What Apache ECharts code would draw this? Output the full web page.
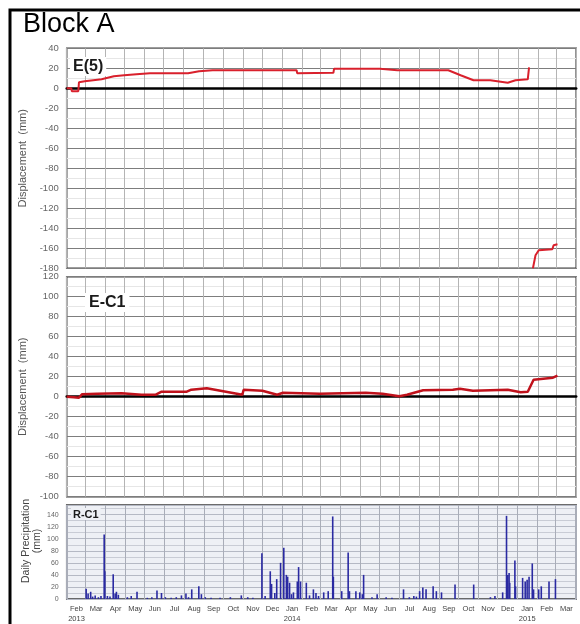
<!DOCTYPE html>
<html>
<head>
<meta charset="utf-8">
<script src="https://cdn.jsdelivr.net/npm/echarts@6/dist/echarts.min.js"></script>
<style>
  html, body { margin: 0; padding: 0; background: #fff; }
  #chart { width: 580px; height: 624px; }
</style>
</head>
<body>
<div id="chart"></div>
<script>
// Month tick labels along the bottom (Feb 2013 .. Mar 2015) and the year under the first month of each year
const monthLabels = ['Feb','Mar','Apr','May','Jun','Jul','Aug','Sep','Oct','Nov','Dec',
  'Jan','Feb','Mar','Apr','May','Jun','Jul','Aug','Sep','Oct','Nov','Dec',
  'Jan','Feb','Mar'];
const yearLabels = { 0: '2013', 11: '2014', 23: '2015' };

// Extensometer E(5): displacement (mm); null marks the break before the reset reading
const e5Dates = ['2013-02-01','2013-02-08','2013-02-09','2013-02-19','2013-02-20','2013-03-01','2013-03-27','2013-03-30','2013-04-15','2013-05-01',
  '2013-05-20','2013-06-10','2013-08-08','2013-08-25','2013-09-15','2013-11-25','2013-11-27','2013-12-05','2014-01-23','2014-01-24',
  '2014-03-21','2014-03-22','2014-06-01','2014-06-28','2014-09-15','2014-10-04','2014-10-24','2014-11-19','2014-12-16','2014-12-28',
  '2015-01-16','2015-01-18','2015-01-21','2015-01-24','2015-01-28','2015-02-02','2015-02-23','2015-02-25','2015-03-03'];
const e5Disp = [0,0,-3,-3,6,7,9,11,12,13,
  14,15,15,17,18,18,19,18,18,15,
  15.5,19.5,19.5,18,18,13,8,8,5.5,8,
  9,21,null,-180,-167,-162,-161,-157,-156];

// Extensometer E-C1: displacement (mm)
const ec1Dates = ['2013-02-01','2013-02-12','2013-02-20','2013-02-25','2013-03-20','2013-04-27','2013-05-28','2013-06-19','2013-06-28','2013-08-06',
  '2013-08-13','2013-09-06','2013-10-31','2013-11-02','2013-12-01','2013-12-24','2014-01-02','2014-02-28','2014-05-10','2014-06-05',
  '2014-07-01','2014-07-13','2014-08-07','2014-09-22','2014-10-03','2014-10-23','2014-12-16','2015-01-05','2015-01-16','2015-01-25',
  '2015-02-24','2015-03-03'];
const ec1Disp = [0,-0.5,-1,2.5,3,3.5,2,2,5,5,
  7,8.5,2,7,6,2,4,3,4,3,
  0.5,2,6.5,7,8,6,7,4.5,5,17,
  19,21];

// Rain gauge R-C1: daily precipitation (mm)
const rainDates = ['2013-03-02','2013-03-05','2013-03-09','2013-03-12','2013-03-16','2013-03-21','2013-03-25','2013-03-30','2013-03-31','2013-04-04',
  '2013-04-08','2013-04-13','2013-04-16','2013-04-18','2013-04-21','2013-05-05','2013-05-11','2013-05-20','2013-06-05','2013-06-12',
  '2013-06-20','2013-06-27','2013-07-03','2013-07-12','2013-07-20','2013-07-28','2013-08-04','2013-08-08','2013-08-13','2013-08-24',
  '2013-08-28','2013-09-03','2013-09-12','2013-09-26','2013-10-12','2013-10-29','2013-11-08','2013-11-16','2013-11-30','2013-12-05',
  '2013-12-13','2013-12-15','2013-12-20','2013-12-23','2013-12-29','2014-01-03','2014-01-07','2014-01-09','2014-01-12','2014-01-15',
  '2014-01-18','2014-01-24','2014-01-26','2014-01-29','2014-02-07','2014-02-12','2014-02-18','2014-02-22','2014-02-26','2014-03-06',
  '2014-03-13','2014-03-20','2014-03-21','2014-04-03','2014-04-13','2014-04-15','2014-04-25','2014-05-01','2014-05-05','2014-05-07',
  '2014-05-20','2014-05-28','2014-06-11','2014-06-20','2014-07-08','2014-07-17','2014-07-24','2014-07-28','2014-08-02','2014-08-07',
  '2014-08-12','2014-08-23','2014-08-28','2014-09-05','2014-09-26','2014-10-25','2014-11-20','2014-11-27','2014-12-09','2014-12-15',
  '2014-12-16','2014-12-17','2014-12-19','2014-12-20','2014-12-28','2014-12-29','2015-01-09','2015-01-13','2015-01-16','2015-01-19',
  '2015-01-24','2015-01-26','2015-02-03','2015-02-07','2015-02-19','2015-03-01'];
const rainMm = [17,9,12,4,6,3,5,107,46,5,
  4,41,9,12,7,3,5,12,2,3,
  14,10,3,2,3,6,9,3,16,21,
  8,3,2,2,3,6,3,2,76,5,
  46,25,10,33,60,85,40,37,27,8,
  11,29,53,29,27,6,16,10,5,11,
  13,137,37,13,77,13,13,11,8,40,
  3,8,3,2,16,3,5,4,13,19,
  16,21,13,11,24,24,3,5,11,138,
  37,40,43,27,64,21,35,29,32,37,
  59,16,16,21,29,33];

const pairs = (dates, vals) => dates.map((d, i) => [d, vals[i]]);

const FONT = 'Liberation Sans, Arial, sans-serif';
const PLOT_LEFT = 66.7;
const PLOT_W = 509.5;
const RAIN_BG = '#eef0f5';
const START = '2013-02-01';
const END = '2015-04-01';
const DAY = 86400000;

function timeAxis(gridIndex, zeroLine) {
  return {
    type: 'time', gridIndex, min: START, max: END,
    splitNumber: 26, minInterval: 28 * DAY, maxInterval: 30.5 * DAY,
    axisLabel: { show: false },
    axisTick: { show: false },
    axisLine: zeroLine
      ? { show: true, onZero: true, lineStyle: { color: '#000', width: 2.5 } }
      : { show: false },
    splitLine: { show: true, lineStyle: { color: gridIndex === 2 ? '#a9adb8' : '#b4b4b4', width: 1 } }
  };
}

function dispAxis(gridIndex, min, max) {
  return {
    type: 'value', gridIndex, min, max, interval: 20,
    name: 'Displacement  (mm)', nameLocation: 'middle', nameGap: 36,
    nameTextStyle: { fontSize: 11, color: '#555', fontFamily: FONT },
    axisLine: { show: false }, axisTick: { show: false },
    axisLabel: { fontSize: 9.5, color: '#666', margin: 8, fontFamily: FONT },
    splitLine: { lineStyle: { color: '#7d7d7d', width: 1.2 } },
    minorTick: { show: false, splitNumber: 2 },
    minorSplitLine: { show: true, lineStyle: { color: '#e6e6e6', width: 1 } }
  };
}

const chart = echarts.init(document.getElementById('chart'), null, { renderer: 'canvas' });

chart.setOption({
  animation: false,
  backgroundColor: '#fff',
  textStyle: { fontFamily: FONT },
  title: [
    { text: 'Block A', left: 23, top: 11, padding: 0,
      textStyle: { fontSize: 27, fontWeight: 'normal', color: '#000', fontFamily: FONT } },
    { text: 'E(5)', left: 70, top: 57, padding: [2, 3, 1, 3], backgroundColor: '#fff',
      textStyle: { fontSize: 16, fontWeight: 'bold', color: '#1a1a1a', fontFamily: FONT } },
    { text: 'E-C1', left: 85, top: 293, padding: [2, 4, 1, 4], backgroundColor: '#fff',
      textStyle: { fontSize: 16, fontWeight: 'bold', color: '#1a1a1a', fontFamily: FONT } },
    { text: 'R-C1', left: 71, top: 508, padding: [1, 2, 0, 2], backgroundColor: RAIN_BG,
      textStyle: { fontSize: 11, fontWeight: 'bold', color: '#1a1a1a', fontFamily: FONT } }
  ],
  grid: [
    { left: PLOT_LEFT, top: 48.3, width: PLOT_W, height: 220, show: true,
      backgroundColor: '#fff', borderColor: '#3c3c3c', borderWidth: 1.5 },
    { left: PLOT_LEFT, top: 276.7, width: PLOT_W, height: 220, show: true,
      backgroundColor: '#fff', borderColor: '#3c3c3c', borderWidth: 1.5 },
    { left: PLOT_LEFT, top: 505, width: PLOT_W, height: 97.3, show: true,
      backgroundColor: RAIN_BG, borderColor: '#3c3c3c', borderWidth: 1.5 }
  ],
  xAxis: [
    timeAxis(0, true),
    timeAxis(1, true),
    timeAxis(2, false),
    {
      type: 'category', gridIndex: 2, position: 'bottom', data: monthLabels, boundaryGap: true,
      axisLine: { show: false }, axisTick: { show: false }, splitLine: { show: false },
      axisLabel: {
        interval: 0, margin: 5, fontSize: 7.5, color: '#444', lineHeight: 10, fontFamily: FONT,
        formatter: (v, i) => yearLabels[i] ? v + '\n' + yearLabels[i] : v
      }
    }
  ],
  yAxis: [
    dispAxis(0, -180, 40),
    dispAxis(1, -100, 120),
    {
      type: 'value', gridIndex: 2, min: 0, max: 156, interval: 20,
      axisLine: { show: false }, axisTick: { show: false },
      axisLabel: { fontSize: 7, color: '#666', margin: 8, showMaxLabel: false, fontFamily: FONT },
      splitLine: { lineStyle: { color: '#b5b9c4', width: 1 } },
      minorTick: { show: false, splitNumber: 2 },
      minorSplitLine: { show: true, lineStyle: { color: '#c9ccd5', width: 1 } }
    }
  ],
  graphic: [
    { type: 'rect', silent: true, z: 100,
      shape: { x: 10, y: 10, width: 620, height: 700 },
      style: { fill: 'transparent', stroke: '#000', lineWidth: 3 } },
    { type: 'text', silent: true, x: 32, y: 541, rotation: Math.PI / 2,
      style: { text: 'Daily Precipitation\n(mm)', align: 'center', verticalAlign: 'middle',
        fontSize: 10.5, lineHeight: 11, fill: '#444', fontFamily: FONT } }
  ],
  series: [
    {
      name: 'E(5)', type: 'line', xAxisIndex: 0, yAxisIndex: 0,
      data: pairs(e5Dates, e5Disp), showSymbol: false, connectNulls: false,
      lineStyle: { color: '#d9202c', width: 2 }, itemStyle: { color: '#d9202c' }, z: 5
    },
    {
      name: 'E-C1', type: 'line', xAxisIndex: 1, yAxisIndex: 1,
      data: pairs(ec1Dates, ec1Disp), showSymbol: false,
      lineStyle: { color: '#c0121c', width: 2.5 }, itemStyle: { color: '#c0121c' }, z: 5
    },
    {
      name: 'R-C1', type: 'bar', xAxisIndex: 2, yAxisIndex: 2,
      data: pairs(rainDates, rainMm), barWidth: 1.6,
      itemStyle: { color: '#2a2aa2' }
    }
  ]
});
</script>
</body>
</html>
